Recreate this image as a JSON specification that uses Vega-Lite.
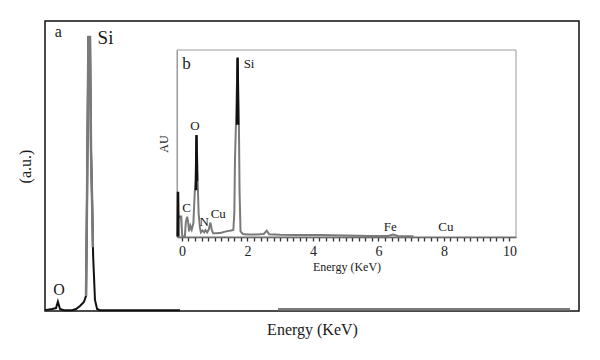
{
  "$schema": "https://vega.github.io/schema/vega-lite/v6.json",
  "width": 534,
  "height": 290,
  "autosize": {"type": "none"},
  "padding": {"left": 45, "top": 21, "right": 21, "bottom": 49},
  "background": "white",
  "config": {
    "view": {"stroke": "#111111", "strokeWidth": 1.5},
    "font": "Liberation Serif",
    "axis": {"grid": false},
    "text": {"font": "Liberation Serif", "color": "#1a1a1a"}
  },
  "datasets": {
    "outer": [
      {"series": "main", "energy": 0, "counts": 0.3},
      {"series": "main", "energy": 0.27, "counts": 0.7},
      {"series": "main", "energy": 0.42, "counts": 1.0},
      {"series": "main", "energy": 0.49, "counts": 3.2},
      {"series": "main", "energy": 0.57, "counts": 0.7},
      {"series": "main", "energy": 0.72, "counts": 0.3},
      {"series": "main", "energy": 1.03, "counts": 0.3},
      {"series": "main", "energy": 1.18, "counts": 0.7},
      {"series": "main", "energy": 1.33, "counts": 1.7},
      {"series": "main", "energy": 1.48, "counts": 3.1},
      {"series": "main", "energy": 1.56, "counts": 5.2},
      {"series": "main", "energy": 1.6, "counts": 41},
      {"series": "main", "energy": 1.65, "counts": 94.5},
      {"series": "main", "energy": 1.71, "counts": 94.5},
      {"series": "main", "energy": 1.75, "counts": 55},
      {"series": "main", "energy": 1.79, "counts": 38},
      {"series": "main", "energy": 1.83, "counts": 19},
      {"series": "main", "energy": 1.9, "counts": 3.8},
      {"series": "main", "energy": 1.98, "counts": 0.7},
      {"series": "main", "energy": 2.09, "counts": 0.3},
      {"series": "main", "energy": 5.13, "counts": 0.3},
      {"series": "peak", "energy": 1.56, "counts": 5.2},
      {"series": "peak", "energy": 1.6, "counts": 41},
      {"series": "peak", "energy": 1.65, "counts": 94.5},
      {"series": "peak", "energy": 1.71, "counts": 94.5},
      {"series": "peak", "energy": 1.75, "counts": 55},
      {"series": "peak", "energy": 1.79, "counts": 38},
      {"series": "peak", "energy": 1.82, "counts": 22},
      {"series": "tail", "energy": 8.86, "counts": 0.6},
      {"series": "tail", "energy": 19.96, "counts": 0.6}
    ],
    "inset": [
      {"series": "spectrum", "energy": -0.14, "counts": 0.3},
      {"series": "spectrum", "energy": -0.09, "counts": 0.3},
      {"series": "spectrum", "energy": -0.08, "counts": 10.9},
      {"series": "spectrum", "energy": -0.02, "counts": 10.9},
      {"series": "spectrum", "energy": 0.01, "counts": 0.3},
      {"series": "spectrum", "energy": 0.09, "counts": 0.3},
      {"series": "spectrum", "energy": 0.12, "counts": 8},
      {"series": "spectrum", "energy": 0.16, "counts": 10.9},
      {"series": "spectrum", "energy": 0.19, "counts": 8},
      {"series": "spectrum", "energy": 0.22, "counts": 3},
      {"series": "spectrum", "energy": 0.26, "counts": 6},
      {"series": "spectrum", "energy": 0.3, "counts": 4},
      {"series": "spectrum", "energy": 0.35, "counts": 7.3},
      {"series": "spectrum", "energy": 0.39, "counts": 23.4},
      {"series": "spectrum", "energy": 0.42, "counts": 30.5},
      {"series": "spectrum", "energy": 0.45, "counts": 53.7},
      {"series": "spectrum", "energy": 0.48, "counts": 30.5},
      {"series": "spectrum", "energy": 0.51, "counts": 12.7},
      {"series": "spectrum", "energy": 0.55, "counts": 5},
      {"series": "spectrum", "energy": 0.58, "counts": 2.5},
      {"series": "spectrum", "energy": 0.63, "counts": 3.5},
      {"series": "spectrum", "energy": 0.68, "counts": 2.5},
      {"series": "spectrum", "energy": 0.72, "counts": 3.7},
      {"series": "spectrum", "energy": 0.77, "counts": 2.5},
      {"series": "spectrum", "energy": 0.82, "counts": 4},
      {"series": "spectrum", "energy": 0.87, "counts": 7.7},
      {"series": "spectrum", "energy": 0.91, "counts": 4},
      {"series": "spectrum", "energy": 0.95, "counts": 2},
      {"series": "spectrum", "energy": 1.06, "counts": 2},
      {"series": "spectrum", "energy": 1.2, "counts": 2.3},
      {"series": "spectrum", "energy": 1.35, "counts": 3},
      {"series": "spectrum", "energy": 1.5, "counts": 3.5},
      {"series": "spectrum", "energy": 1.57, "counts": 3.8},
      {"series": "spectrum", "energy": 1.6, "counts": 12.7},
      {"series": "spectrum", "energy": 1.62, "counts": 41},
      {"series": "spectrum", "energy": 1.65, "counts": 60.8},
      {"series": "spectrum", "energy": 1.7, "counts": 95.5},
      {"series": "spectrum", "energy": 1.74, "counts": 60.8},
      {"series": "spectrum", "energy": 1.76, "counts": 24.2},
      {"series": "spectrum", "energy": 1.79, "counts": 3},
      {"series": "spectrum", "energy": 1.86, "counts": 1.6},
      {"series": "spectrum", "energy": 2.0, "counts": 1.4},
      {"series": "spectrum", "energy": 2.28, "counts": 1.4},
      {"series": "spectrum", "energy": 2.5, "counts": 1.6},
      {"series": "spectrum", "energy": 2.59, "counts": 3.4},
      {"series": "spectrum", "energy": 2.66, "counts": 1.5},
      {"series": "spectrum", "energy": 3.0, "counts": 1.2},
      {"series": "spectrum", "energy": 3.5, "counts": 1.1},
      {"series": "spectrum", "energy": 4.2, "counts": 1.1},
      {"series": "spectrum", "energy": 5.0, "counts": 0.8},
      {"series": "spectrum", "energy": 5.75, "counts": 0.5},
      {"series": "spectrum", "energy": 6.3, "counts": 0.6},
      {"series": "spectrum", "energy": 6.44, "counts": 1.3},
      {"series": "spectrum", "energy": 6.6, "counts": 0.6},
      {"series": "spectrum", "energy": 7.07, "counts": 0.4},
      {"series": "k0", "energy": -0.13, "counts": 0.3},
      {"series": "k0", "energy": -0.12, "counts": 24.2},
      {"series": "k0", "energy": -0.11, "counts": 10},
      {"series": "k1", "energy": 0.43, "counts": 25},
      {"series": "k1", "energy": 0.445, "counts": 54.5},
      {"series": "k1", "energy": 0.46, "counts": 30},
      {"series": "k2", "energy": 1.685, "counts": 60},
      {"series": "k2", "energy": 1.7, "counts": 96},
      {"series": "k2", "energy": 1.715, "counts": 60}
    ],
    "labelsA": [
      {"label": "a", "energy": 0.51, "counts": 96.3, "big": false},
      {"label": "Si", "energy": 2.3, "counts": 94.3, "big": true},
      {"label": "O", "energy": 0.53, "counts": 7.2, "big": false}
    ],
    "labelsB": [
      {"label": "b", "energy": 0.14, "counts": 92.5, "big": true},
      {"label": "Si", "energy": 2.05, "counts": 92.5, "big": false},
      {"label": "O", "energy": 0.4, "counts": 59.4, "big": false},
      {"label": "C", "energy": 0.14, "counts": 15.3, "big": false},
      {"label": "N", "energy": 0.68, "counts": 8.2, "big": false},
      {"label": "Cu", "energy": 1.11, "counts": 12.3, "big": false},
      {"label": "Fe", "energy": 6.36, "counts": 5.5, "big": false},
      {"label": "Cu", "energy": 8.06, "counts": 5.5, "big": false}
    ]
  },
  "layer": [
    {
      "data": {"name": "outer"},
      "transform": [{"filter": "datum.series === 'main'"}],
      "mark": {"type": "line", "color": "#111111", "strokeWidth": 2},
      "encoding": {
        "x": {"field": "energy", "type": "quantitative",
          "scale": {"domain": [0, 20.3], "nice": false, "zero": false},
          "axis": {"orient": "bottom", "title": "Energy (KeV)", "labels": false, "ticks": false, "domain": false,
            "titleFontSize": 16, "titleFontWeight": "normal", "titleColor": "#1a1a1a", "titlePadding": 10, "titleFont": "Liberation Serif"}},
        "y": {"field": "counts", "type": "quantitative",
          "scale": {"domain": [0, 100], "nice": false, "zero": false},
          "axis": {"orient": "left", "title": "(a.u.)", "labels": false, "ticks": false, "domain": false,
            "titleFontSize": 16, "titleFontWeight": "normal", "titleColor": "#1a1a1a", "titlePadding": 12, "titleFont": "Liberation Serif"}}
      }
    },
    {
      "data": {"name": "outer"},
      "transform": [{"filter": "datum.series !== 'main'"}],
      "mark": {"type": "line", "color": "#7a7a7a", "strokeWidth": 2.5},
      "encoding": {
        "x": {"field": "energy", "type": "quantitative", "scale": {"domain": [0, 20.3], "nice": false, "zero": false}, "axis": null},
        "y": {"field": "counts", "type": "quantitative", "scale": {"domain": [0, 100], "nice": false, "zero": false}, "axis": null},
        "detail": {"field": "series"}
      }
    },
    {
      "data": {"name": "labelsA"},
      "transform": [{"filter": "!datum.big"}],
      "mark": {"type": "text", "fontSize": 16, "align": "center", "baseline": "middle"},
      "encoding": {
        "x": {"field": "energy", "type": "quantitative", "scale": {"domain": [0, 20.3], "nice": false, "zero": false}, "axis": null},
        "y": {"field": "counts", "type": "quantitative", "scale": {"domain": [0, 100], "nice": false, "zero": false}, "axis": null},
        "text": {"field": "label"}
      }
    },
    {
      "data": {"name": "labelsA"},
      "transform": [{"filter": "datum.big"}],
      "mark": {"type": "text", "fontSize": 19, "align": "center", "baseline": "middle"},
      "encoding": {
        "x": {"field": "energy", "type": "quantitative", "scale": {"domain": [0, 20.3], "nice": false, "zero": false}, "axis": null},
        "y": {"field": "counts", "type": "quantitative", "scale": {"domain": [0, 100], "nice": false, "zero": false}, "axis": null},
        "text": {"field": "label"}
      }
    },
    {
      "data": {"values": [{}]},
      "mark": {"type": "rect", "fill": null, "stroke": "#9a9a9a", "strokeWidth": 1},
      "encoding": {
        "x": {"datum": -0.15, "type": "quantitative", "scale": {"domain": [-0.15, 10.2], "range": [132, 471], "nice": false, "zero": false}, "axis": null},
        "x2": {"datum": 10.2},
        "y": {"datum": 0, "type": "quantitative", "scale": {"domain": [0, 100], "range": [216, 29], "nice": false, "zero": false}, "axis": null},
        "y2": {"datum": 100}
      }
    },
    {
      "data": {"name": "inset"},
      "transform": [{"filter": "datum.series === 'spectrum'"}],
      "mark": {"type": "line", "color": "#7a7a7a", "strokeWidth": 2},
      "encoding": {
        "x": {"field": "energy", "type": "quantitative",
          "scale": {"domain": [-0.15, 10.2], "range": [132, 471], "nice": false, "zero": false},
          "axis": {"orient": "bottom", "offset": -74, "title": "Energy (KeV)",
            "values": [0,0.2,0.4,0.6,0.8,1,1.2,1.4,1.6,1.8,2,2.2,2.4,2.6,2.8,3,3.2,3.4,3.6,3.8,4,4.2,4.4,4.6,4.8,5,5.2,5.4,5.6,5.8,6,6.2,6.4,6.6,6.8,7,7.2,7.4,7.6,7.8,8,8.2,8.4,8.6,8.8,9,9.2,9.4,9.6,9.8,10],
            "labelExpr": "abs(datum.value/2 - round(datum.value/2)) < 0.01 ? format(datum.value, 'd') : ''",
            "labelOverlap": false, "labelFlush": false,
            "tickSize": 4, "tickColor": "#333333", "tickWidth": 1.3, "domainColor": "#444444", "domainWidth": 1.5,
            "labelFontSize": 14, "labelColor": "#222222", "labelPadding": 3, "labelFont": "Liberation Serif",
            "titleFontSize": 12, "titleFontWeight": "normal", "titleColor": "#1a1a1a", "titlePadding": 3, "titleFont": "Liberation Serif"}},
        "y": {"field": "counts", "type": "quantitative",
          "scale": {"domain": [0, 100], "range": [216, 29], "nice": false, "zero": false},
          "axis": {"orient": "left", "offset": -132, "title": "AU", "labels": false, "ticks": false,
            "domainColor": "#9a9a9a", "domainWidth": 1,
            "titleFontSize": 12, "titleFontWeight": "normal", "titleColor": "#1a1a1a", "titlePadding": 7, "titleFont": "Liberation Serif"}}
      }
    },
    {
      "data": {"name": "inset"},
      "transform": [{"filter": "datum.series !== 'spectrum'"}],
      "mark": {"type": "line", "color": "#111111", "strokeWidth": 2.5},
      "encoding": {
        "x": {"field": "energy", "type": "quantitative", "scale": {"domain": [-0.15, 10.2], "range": [132, 471], "nice": false, "zero": false}, "axis": null},
        "y": {"field": "counts", "type": "quantitative", "scale": {"domain": [0, 100], "range": [216, 29], "nice": false, "zero": false}, "axis": null},
        "detail": {"field": "series"}
      }
    },
    {
      "data": {"name": "labelsB"},
      "transform": [{"filter": "!datum.big"}],
      "mark": {"type": "text", "fontSize": 13, "align": "center", "baseline": "middle"},
      "encoding": {
        "x": {"field": "energy", "type": "quantitative", "scale": {"domain": [-0.15, 10.2], "range": [132, 471], "nice": false, "zero": false}, "axis": null},
        "y": {"field": "counts", "type": "quantitative", "scale": {"domain": [0, 100], "range": [216, 29], "nice": false, "zero": false}, "axis": null},
        "text": {"field": "label"}
      }
    },
    {
      "data": {"name": "labelsB"},
      "transform": [{"filter": "datum.big"}],
      "mark": {"type": "text", "fontSize": 17, "align": "center", "baseline": "middle"},
      "encoding": {
        "x": {"field": "energy", "type": "quantitative", "scale": {"domain": [-0.15, 10.2], "range": [132, 471], "nice": false, "zero": false}, "axis": null},
        "y": {"field": "counts", "type": "quantitative", "scale": {"domain": [0, 100], "range": [216, 29], "nice": false, "zero": false}, "axis": null},
        "text": {"field": "label"}
      }
    }
  ],
  "resolve": {"scale": {"x": "independent", "y": "independent"}, "axis": {"x": "independent", "y": "independent"}}
}
